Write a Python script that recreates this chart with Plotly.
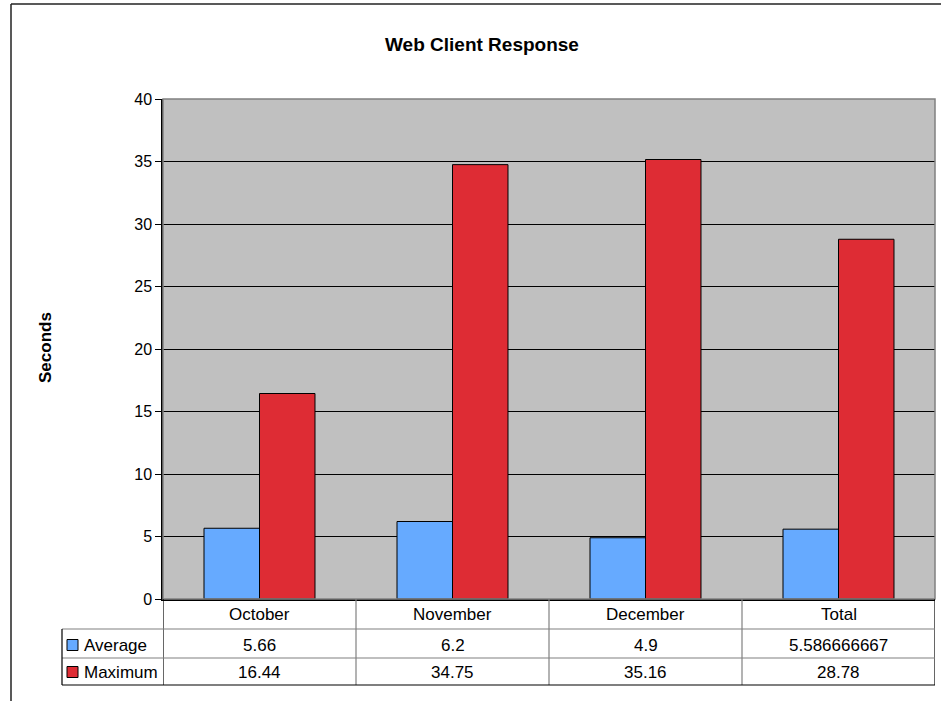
import plotly.graph_objects as go

categories = ["October", "November", "December", "Total"]
average = [5.66, 6.2, 4.9, 5.586666667]
maximum = [16.44, 34.75, 35.16, 28.78]
series_names = ["Average", "Maximum"]
y_ticks = [0, 5, 10, 15, 20, 25, 30, 35, 40]

BLUE = "#66AAFF"
RED = "#DE2C34"
FONT = "Arial, Liberation Sans, sans-serif"

W, H = 941, 701
L, R, T, B = 163, 6, 99, 102
PW, PH = W - L - R, H - T - B


def px(x):
    return (x - L) / PW


def py(y):
    return (H - B - y) / PH


fig = go.Figure()
fig.add_trace(go.Bar(x=categories, y=average, name=series_names[0],
                     marker=dict(color=BLUE, line=dict(color="black", width=1))))
fig.add_trace(go.Bar(x=categories, y=maximum, name=series_names[1],
                     marker=dict(color=RED, line=dict(color="black", width=1))))

shapes = []
ann = []

# outer chart border (top and left edges visible)
shapes.append(dict(type="line", xref="paper", yref="paper", x0=px(11), x1=px(W),
                   y0=py(4), y1=py(4), line=dict(color="#222", width=1.5), layer="below"))
shapes.append(dict(type="line", xref="paper", yref="paper", x0=px(11), x1=px(11),
                   y0=py(4), y1=py(H), line=dict(color="#222", width=1.5), layer="below"))
# plot area border (top/right gray)
shapes.append(dict(type="rect", xref="paper", yref="paper", x0=0, x1=1, y0=0, y1=1,
                   line=dict(color="#808080", width=1.5)))

# data table
row_lines = [629, 658, 685]
y_tab_bot = py(685)
for i in range(len(categories) + 1):
    xc = i - 0.5
    col = "black" if i in (0, len(categories)) else "#808080"
    shapes.append(dict(type="line", xref="x", yref="paper", x0=xc, x1=xc, y0=0, y1=y_tab_bot,
                       line=dict(color=col, width=1.2)))
for j, yl in enumerate(row_lines):
    col = "black" if j == len(row_lines) - 1 else "#808080"
    shapes.append(dict(type="line", xref="paper", yref="paper", x0=px(62), x1=1,
                       y0=py(yl), y1=py(yl), line=dict(color=col, width=1.2)))
shapes.append(dict(type="line", xref="paper", yref="paper", x0=px(62), x1=px(62),
                   y0=py(629), y1=y_tab_bot, line=dict(color="black", width=1.2)))

# header row
for c in categories:
    ann.append(dict(x=c, y=py(614), xref="x", yref="paper", text=c, showarrow=False,
                    xanchor="center", yanchor="middle",
                    font=dict(family=FONT, size=17, color="black")))

row_centers = [645, 672]
colors = [BLUE, RED]
for name, vals, yc, colr in zip(series_names, [average, maximum], row_centers, colors):
    shapes.append(dict(type="rect", xref="paper", yref="paper", x0=px(67), x1=px(78),
                       y0=py(yc - 5.5), y1=py(yc + 5.5), fillcolor=colr,
                       line=dict(color="black", width=1)))
    ann.append(dict(x=px(82), y=py(yc), xref="paper", yref="paper", text=name,
                    showarrow=False, xanchor="left", yanchor="middle",
                    font=dict(family=FONT, size=17, color="black")))
    for c, v in zip(categories, vals):
        ann.append(dict(x=c, y=py(yc), xref="x", yref="paper", text=format(v, ".10g"),
                        showarrow=False, xanchor="center", yanchor="middle",
                        font=dict(family=FONT, size=17, color="black")))

# title & axis title
ann.append(dict(x=px(482), y=py(45), xref="paper", yref="paper", text="<b>Web Client Response</b>",
                showarrow=False, xanchor="center", yanchor="middle",
                font=dict(family=FONT, size=19, color="black")))
ann.append(dict(x=px(45), y=py(348), xref="paper", yref="paper", text="<b>Seconds</b>",
                showarrow=False, textangle=-90, xanchor="center", yanchor="middle",
                font=dict(family=FONT, size=17, color="black")))

fig.update_layout(
    width=W, height=H,
    margin=dict(l=L, r=R, t=T, b=B, pad=0),
    paper_bgcolor="white", plot_bgcolor="#C0C0C0",
    barmode="group", bargap=0.425, bargroupgap=0,
    showlegend=False,
    shapes=shapes, annotations=ann,
    font=dict(family=FONT, size=16, color="black"),
)
fig.update_xaxes(showticklabels=False, ticks="", showgrid=False, range=[-0.5, 3.5],
                 showline=True, linecolor="black", linewidth=1.5, zeroline=False)
fig.update_yaxes(range=[0, 40], tickvals=y_ticks, showgrid=True, gridcolor="black", gridwidth=1,
                 showline=True, linecolor="black", linewidth=1.5, ticks="outside", ticklen=6,
                 tickcolor="black", tickfont=dict(family=FONT, size=16, color="black"),
                 zeroline=False)

fig.write_html("out.html", config={"displayModeBar": False},
               post_script="document.body.style.margin='0';document.body.style.overflow='hidden';")
